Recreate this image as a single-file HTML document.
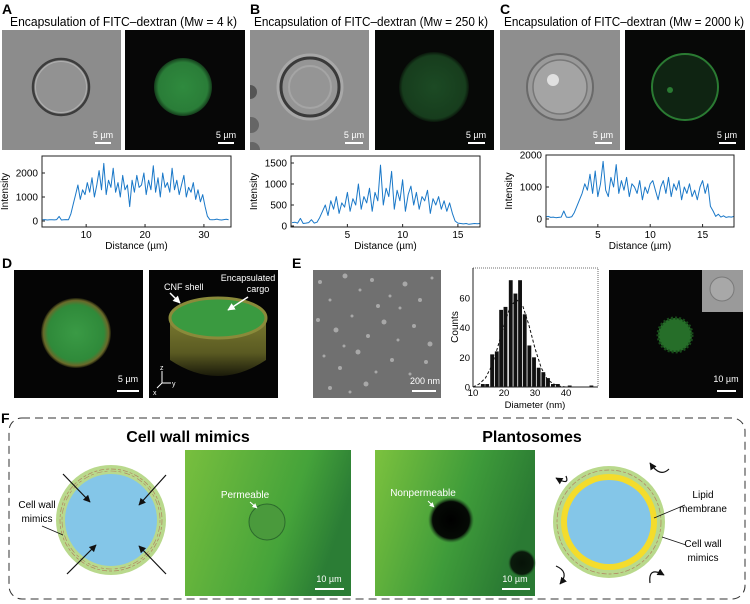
<!DOCTYPE html>
<html><head><meta charset="utf-8">
<style>
html,body{margin:0;padding:0;background:#fff;}
svg{display:block;font-family:"Liberation Sans",sans-serif;}
</style></head>
<body>
<svg id="fig" width="750" height="604" viewBox="0 0 750 604" xmlns="http://www.w3.org/2000/svg">
<defs>
  <radialGradient id="gA" cx="50%" cy="50%" r="50%"><stop offset="0" stop-color="#2f8a3e"/><stop offset="0.85" stop-color="#2a7d38"/><stop offset="1" stop-color="#143d1b"/></radialGradient>
  <radialGradient id="gB" cx="50%" cy="50%" r="50%"><stop offset="0" stop-color="#1c4a24"/><stop offset="0.9" stop-color="#173d1d"/><stop offset="1" stop-color="#0a160b"/></radialGradient>
  <radialGradient id="gD" cx="50%" cy="50%" r="50%"><stop offset="0" stop-color="#3a9a45"/><stop offset="0.8" stop-color="#2f8a3a"/><stop offset="0.93" stop-color="#6a6a2a"/><stop offset="1" stop-color="#1a1a0a"/></radialGradient>
  <linearGradient id="cyl" x1="0" y1="0" x2="0" y2="1"><stop offset="0" stop-color="#7a7a30"/><stop offset="0.6" stop-color="#5a5a22"/><stop offset="1" stop-color="#1a1a0a"/></linearGradient>
  <linearGradient id="fgreen" x1="0" y1="0" x2="1" y2="0.3"><stop offset="0" stop-color="#78bf3e"/><stop offset="0.7" stop-color="#45a33a"/><stop offset="1" stop-color="#2b7d35"/></linearGradient>
  <linearGradient id="fgreen2" x1="0" y1="0" x2="1" y2="0.3"><stop offset="0" stop-color="#7cc23e"/><stop offset="0.6" stop-color="#3f9c3a"/><stop offset="1" stop-color="#2a7a33"/></linearGradient>
  <radialGradient id="blk" cx="50%" cy="50%" r="50%"><stop offset="0" stop-color="#000"/><stop offset="0.8" stop-color="#050a05"/><stop offset="1" stop-color="#1e4a20" stop-opacity="0"/></radialGradient>
  <clipPath id="clipB"><rect x="250" y="30" width="119" height="120"/></clipPath>
  <marker id="ah" viewBox="0 0 10 10" refX="9" refY="5" markerWidth="6" markerHeight="6" orient="auto"><path d="M0,0 L10,5 L0,10 z" fill="#111"/></marker>
  <marker id="ahw" viewBox="0 0 10 10" refX="9" refY="5" markerWidth="5" markerHeight="5" orient="auto"><path d="M0,0 L10,5 L0,10 z" fill="#fff"/></marker>
</defs>

<text x="2" y="14" font-size="14" font-weight="bold">A</text>
<text x="250" y="14" font-size="14" font-weight="bold">B</text>
<text x="500" y="14" font-size="14" font-weight="bold">C</text>
<text x="10" y="26" font-size="12.5" textLength="227" lengthAdjust="spacingAndGlyphs">Encapsulation of FITC–dextran (Mw = 4 k)</text>
<text x="254" y="26" font-size="12.5" textLength="234" lengthAdjust="spacingAndGlyphs">Encapsulation of FITC–dextran (Mw = 250 k)</text>
<text x="504" y="26" font-size="12.5" textLength="240" lengthAdjust="spacingAndGlyphs">Encapsulation of FITC–dextran (Mw = 2000 k)</text>

<g>
  <rect x="2" y="30" width="119" height="120" fill="#8c8c8c"/>
  <circle cx="61" cy="87" r="28" fill="#929292" stroke="#3c3c3c" stroke-width="2.5"/>
  <circle cx="61" cy="87" r="25.5" fill="none" stroke="#b0b0b0" stroke-width="1"/>
  <text x="103" y="138" font-size="9" fill="#fff" text-anchor="middle">5 µm</text>
  <rect x="95" y="142" width="16" height="2" fill="#fff"/>
</g>
<g>
  <rect x="125" y="30" width="120" height="120" fill="#070707"/>
  <circle cx="183" cy="87" r="29" fill="url(#gA)"/>
  <text x="226" y="138" font-size="9" fill="#fff" text-anchor="middle">5 µm</text>
  <rect x="218" y="142" width="16" height="2" fill="#fff"/>
</g>
<g>
  <rect x="250" y="30" width="119" height="120" fill="#8f8f8f"/>
  <g clip-path="url(#clipB)">
  <circle cx="250" cy="92" r="7" fill="#555"/><circle cx="251" cy="125" r="8" fill="#666"/><circle cx="252" cy="150" r="8" fill="#666"/>
  </g>
  <circle cx="310" cy="87" r="32" fill="#9a9a9a" stroke="#a8a8a8" stroke-width="3"/>
  <circle cx="310" cy="87" r="29" fill="#959595" stroke="#3a3a3a" stroke-width="3"/>
  <circle cx="310" cy="87" r="21" fill="none" stroke="#a5a5a5" stroke-width="2"/>
  <text x="354" y="138" font-size="9" fill="#fff" text-anchor="middle">5 µm</text>
  <rect x="345" y="142" width="18" height="2" fill="#fff"/>
</g>
<g>
  <rect x="375" y="30" width="119" height="120" fill="#070907"/>
  <circle cx="434" cy="87" r="35" fill="url(#gB)"/>
  <text x="476" y="138" font-size="9" fill="#fff" text-anchor="middle">5 µm</text>
  <rect x="468" y="142" width="17" height="2" fill="#fff"/>
</g>
<g>
  <rect x="500" y="30" width="120" height="120" fill="#8e8e8e"/>
  <circle cx="560" cy="87" r="33" fill="#9a9a9a" stroke="#6a6a6a" stroke-width="2"/>
  <circle cx="560" cy="87" r="27" fill="#a4a4a4" stroke="#777" stroke-width="1.5"/>
  <circle cx="553" cy="80" r="6" fill="#e0e0e0"/>
  <text x="603" y="138" font-size="9" fill="#fff" text-anchor="middle">5 µm</text>
  <rect x="595" y="142" width="17" height="2" fill="#fff"/>
</g>
<g>
  <rect x="625" y="30" width="120" height="120" fill="#070807"/>
  <circle cx="685" cy="87" r="33" fill="#0f2412" stroke="#2a7a32" stroke-width="2"/>
  <circle cx="670" cy="90" r="3" fill="#2a7a32"/>
  <text x="727" y="138" font-size="9" fill="#fff" text-anchor="middle">5 µm</text>
  <rect x="719" y="142" width="17" height="2" fill="#fff"/>
</g>

<g id="plots"></g>

<text x="2" y="268" font-size="14" font-weight="bold">D</text>
<text x="292" y="268" font-size="14" font-weight="bold">E</text>
<g>
  <rect x="14" y="270" width="129" height="128" fill="#050505"/>
  <circle cx="76" cy="333" r="35" fill="url(#gD)"/>
  <text x="128" y="382" font-size="9" fill="#fff" text-anchor="middle">5 µm</text>
  <rect x="117" y="390" width="22" height="2" fill="#fff"/>
</g>
<g>
  <rect x="149" y="270" width="129" height="128" fill="#050505"/>
  <path d="M170,318 L170,360 Q218,392 266,360 L266,318 Z" fill="url(#cyl)"/>
  <ellipse cx="218" cy="318" rx="48" ry="20" fill="#3a9a40" stroke="#8a8a3a" stroke-width="3"/>
  <text x="164" y="290" font-size="9" fill="#fff">CNF shell</text>
  <line x1="170" y1="293" x2="180" y2="303" stroke="#fff" stroke-width="1.5" marker-end="url(#ahw)"/>
  <text x="248" y="281" font-size="9" fill="#fff" text-anchor="middle">Encapsulated</text>
  <text x="258" y="292" font-size="9" fill="#fff" text-anchor="middle">cargo</text>
  <line x1="248" y1="297" x2="228" y2="310" stroke="#fff" stroke-width="1.5" marker-end="url(#ahw)"/>
  <line x1="162" y1="383" x2="162" y2="371" stroke="#fff"/><line x1="162" y1="383" x2="171" y2="383" stroke="#fff"/><line x1="162" y1="383" x2="157" y2="388" stroke="#fff"/>
  <text x="160" y="370" font-size="7" fill="#fff">z</text><text x="172" y="386" font-size="7" fill="#fff">y</text><text x="153" y="395" font-size="7" fill="#fff">x</text>
</g>
<g id="sem">
  <rect x="313" y="270" width="128" height="128" fill="#707070"/>
</g>
<g id="hist"></g>
<g>
  <rect x="609" y="270" width="134" height="128" fill="#060606"/>
  <circle cx="675" cy="335" r="17" fill="#2a7a2e" opacity="0.9"/>
  <circle cx="675" cy="335" r="17" fill="none" stroke="#184a1a" stroke-width="3" stroke-dasharray="2 2"/>
  <rect x="702" y="270" width="41" height="42" fill="#9a9a9a"/>
  <circle cx="722" cy="289" r="12" fill="#a8a8a8" stroke="#7a7a7a"/>
  <text x="726" y="382" font-size="9" fill="#fff" text-anchor="middle">10 µm</text>
  <rect x="717" y="390" width="19" height="2" fill="#fff"/>
</g>

<text x="1" y="423" font-size="14" font-weight="bold">F</text>
<rect x="9" y="418" width="736" height="181" rx="13" fill="none" stroke="#333" stroke-width="1" stroke-dasharray="8 5"/>
<text x="188" y="442" font-size="16" font-weight="bold" text-anchor="middle">Cell wall mimics</text>
<text x="532" y="442" font-size="16" font-weight="bold" text-anchor="middle">Plantosomes</text>

<g>
  <circle cx="111" cy="520" r="55" fill="#b9d98c"/>
  <circle cx="111" cy="520" r="51" fill="none" stroke="#b08060" stroke-width="0.7" stroke-dasharray="5 2 3 2"/>
  <circle cx="111" cy="520" r="49" fill="none" stroke="#b08060" stroke-width="0.6" stroke-dasharray="3 3 6 2"/>
  <circle cx="111" cy="520" r="46" fill="#84c6e8"/>
  <line x1="63" y1="474" x2="90" y2="502" stroke="#111" stroke-width="1.2" marker-end="url(#ah)"/>
  <line x1="166" y1="475" x2="139" y2="505" stroke="#111" stroke-width="1.2" marker-end="url(#ah)"/>
  <line x1="67" y1="574" x2="96" y2="545" stroke="#111" stroke-width="1.2" marker-end="url(#ah)"/>
  <line x1="166" y1="574" x2="139" y2="546" stroke="#111" stroke-width="1.2" marker-end="url(#ah)"/>
  <text x="37" y="508" font-size="10" text-anchor="middle">Cell wall</text>
  <text x="37" y="522" font-size="10" text-anchor="middle">mimics</text>
  <line x1="42" y1="526" x2="63" y2="535" stroke="#111" stroke-width="0.8"/>
</g>
<g>
  <rect x="185" y="450" width="166" height="146" fill="url(#fgreen)"/>
  <circle cx="267" cy="522" r="18" fill="#4a9a3c" stroke="#2c6a2c" stroke-width="1"/>
  <text x="245" y="498" font-size="10" fill="#fff" text-anchor="middle">Permeable</text>
  <line x1="250" y1="502" x2="257" y2="508" stroke="#fff" stroke-width="1" marker-end="url(#ahw)"/>
  <text x="329" y="582" font-size="9" fill="#fff" text-anchor="middle">10 µm</text>
  <rect x="315" y="588" width="29" height="2" fill="#fff"/>
</g>
<g>
  <rect x="375" y="450" width="160" height="146" fill="url(#fgreen2)"/>
  <circle cx="451" cy="520" r="23" fill="url(#blk)"/>
  <circle cx="522" cy="563" r="14" fill="url(#blk)" opacity="0.85"/>
  <text x="423" y="496" font-size="10" fill="#fff" text-anchor="middle">Nonpermeable</text>
  <line x1="428" y1="501" x2="434" y2="507" stroke="#fff" stroke-width="1" marker-end="url(#ahw)"/>
  <text x="515" y="582" font-size="9" fill="#fff" text-anchor="middle">10 µm</text>
  <rect x="502" y="588" width="28" height="2" fill="#fff"/>
</g>
<g>
  <circle cx="609" cy="522" r="56" fill="#b9d98c"/>
  <circle cx="609" cy="522" r="52" fill="none" stroke="#b08060" stroke-width="0.7" stroke-dasharray="5 2 3 2"/>
  <circle cx="609" cy="522" r="48" fill="#f4dc2c"/>
  <circle cx="609" cy="522" r="42" fill="#84c6e8"/>
  <path d="M566,476 Q570,486 556,478" fill="none" stroke="#111" stroke-width="1.2" marker-end="url(#ah)"/>
  <path d="M669,469 Q660,478 650,463" fill="none" stroke="#111" stroke-width="1.2" marker-end="url(#ah)"/>
  <path d="M556,566 Q570,572 560,584" fill="none" stroke="#111" stroke-width="1.2" marker-end="url(#ah)"/>
  <path d="M650,583 Q648,566 664,575" fill="none" stroke="#111" stroke-width="1.2" marker-end="url(#ah)"/>
  <text x="703" y="498" font-size="10" text-anchor="middle">Lipid</text>
  <text x="703" y="512" font-size="10" text-anchor="middle">membrane</text>
  <line x1="654" y1="518" x2="685" y2="505" stroke="#111" stroke-width="0.8"/>
  <text x="703" y="547" font-size="10" text-anchor="middle">Cell wall</text>
  <text x="703" y="561" font-size="10" text-anchor="middle">mimics</text>
  <line x1="662" y1="537" x2="686" y2="545" stroke="#111" stroke-width="0.8"/>
</g>
</svg>

<script>
// ---- Intensity profile data ----
const distStartA = 2.6, distStepA = 0.4;
const intensityA = [50,60,40,55,50,45,60,190,40,50,60,55,
 300,700,1100,1500,900,1300,1100,1600,1200,1800,1000,1500,2100,1300,2400,1100,1700,1400,2200,1200,1600,1000,1900,1300,1500,600,1700,1200,1900,1400,1500,2000,1100,1700,1300,2300,1200,1800,1000,2000,1400,1600,1200,2200,1300,1700,1100,1500,1900,1000,1400,1200,1600,900,1300,800,1100,600,200,60,
 50,60,80,50,40,60,70,50];
const yTicksA = [0,1000,2000];
const xTicksA = [10,20,30];

const distStartB = 0, distStepB = 0.25;
const intensityB = [80,90,70,180,60,70,80,150,70,90,200,
 350,500,250,600,400,700,300,550,450,800,350,650,500,1000,400,700,550,900,350,800,600,1450,500,900,700,1300,400,850,600,1100,350,750,950,500,800,400,700,600,850,300,650,500,700,400,600,350,550,300,
 120,70,60,50,60,40,50,60,55,60];
const yTicksB = [0,500,1000,1500];
const xTicksB = [5,10,15];

const distStartC = 0, distStepC = 0.25;
const intensityC = [60,80,50,60,40,50,60,250,60,50,70,
 200,400,600,800,1100,900,1400,800,1500,700,1100,1800,900,700,1300,1000,1700,800,1200,900,1300,700,1100,1000,800,1200,600,1000,800,1100,1200,900,600,1000,1200,800,1300,700,1100,900,1200,600,1000,800,1100,700,900,600,1000,1200,800,1100,
 400,250,80,150,60,100,50,70,60,80];
const yTicksC = [0,1000,2000];
const xTicksC = [5,10,15];

// ---- Histogram data ----
const diameters = [13.3,14.7,16.3,17.8,19.2,20.6,22.3,23.8,25.3,26.8,28.3,29.8,31.3,32.8,34.3,35.9,37.5,41.3,48.3];
const counts =    [2,2,22,24,52,54,72,63,72,49,28,20,13,10,6,2,2,1,1];
const fitDiam =   [10,12,14,16,18,20,22,24,26,28,30,32,34,36,38,40];
const fitCount =  [0,2,6,14,27,42,54,59,55,42,26,13,5,2,0.5,0];
const histXTicks = [10,20,30,40];
const histYTicks = [0,20,40,60];

const NS = "http://www.w3.org/2000/svg";
function mk(tag, attrs, parent){ const e=document.createElementNS(NS,tag); for(const k in attrs) e.setAttribute(k,attrs[k]); if(parent) parent.appendChild(e); return e; }
function lin(d0,d1,r0,r1){ return v => r0 + (v-d0)/(d1-d0)*(r1-r0); }

function profile(name, box, xd, yd, start, step, vals, xt, yt){
  const g = mk('g',{},document.getElementById('plots'));
  
  
  const sx = lin(xd[0],xd[1],box.x0,box.x1), sy = lin(yd[0],yd[1],box.y0,box.y1);
  let d='';
  vals.forEach((v,i)=>{ d += (i?'L':'M') + sx(start+i*step).toFixed(1)+','+sy(v).toFixed(1); });
  const line = mk('path',{d:d,fill:'none',stroke:'#1a78c8','stroke-width':1,'stroke-linejoin':'round'},g);
  
  
  const frame = mk('rect',{x:box.x0,y:box.top,width:box.x1-box.x0,height:box.bot-box.top,fill:'none',stroke:'#222','stroke-width':1},g);
  
  
  yt.forEach(t=>{
    const y=sy(t);
    mk('line',{x1:box.x0,y1:y,x2:box.x0+3,y2:y,stroke:'#222'},g);
    const tx=mk('text',{x:box.x0-4,y:y+3.5,'font-size':10,'text-anchor':'end'},g); tx.textContent=t;
    
    
  });
  xt.forEach(t=>{
    const x=sx(t);
    mk('line',{x1:x,y1:box.bot,x2:x,y2:box.bot-3,stroke:'#222'},g);
    const tx=mk('text',{x:x,y:box.bot+11,'font-size':10,'text-anchor':'middle'},g); tx.textContent=t;
    
    
  });
  const xl=mk('text',{x:(box.x0+box.x1)/2,y:box.bot+22,'font-size':10,'text-anchor':'middle'},g); xl.textContent='Distance (µm)';
  
  
  const cy=(box.top+box.bot)/2, lx=box.x0-34;
  const yl=mk('text',{x:lx,y:cy,'font-size':10,'text-anchor':'middle',transform:`rotate(-90 ${lx} ${cy})`},g); yl.textContent='Intensity';
  
  
}

profile('intensity-profile-a',{x0:42,x1:231,top:156,bot:227,y0:221,y1:173},[2.5,34.6],[0,2000],distStartA,distStepA,intensityA,xTicksA,yTicksA);
profile('intensity-profile-b',{x0:291,x1:480,top:156,bot:227,y0:226,y1:163},[-0.1,17.0],[0,1500],distStartB,distStepB,intensityB,xTicksB,yTicksB);
profile('intensity-profile-c',{x0:546,x1:734,top:155,bot:227,y0:219,y1:155},[0.05,18],[0,2000],distStartC,distStepC,intensityC,xTicksC,yTicksC);

(function(){
  const g=document.getElementById('hist');
  
  
  const x0=473,x1=598,top=268,bot=387;
  const sx=lin(10,50.3,x0,x1), sy=lin(0,60,bot,298);
  diameters.forEach((dv,i)=>{
    const w=(sx(dv+1.5)-sx(dv));
    const b=mk('rect',{x:sx(dv)-w/2,y:sy(counts[i]),width:w-0.8,height:bot-sy(counts[i]),fill:'#111'},g);
    
    
  });
  let d='';
  fitDiam.forEach((v,i)=>{ d+=(i?'L':'M')+sx(v).toFixed(1)+','+sy(fitCount[i]).toFixed(1); });
  const fit=mk('path',{d:d,fill:'none',stroke:'#111','stroke-width':1,'stroke-dasharray':'3 2'},g);
  
  
  const fr=mk('rect',{x:x0,y:top,width:x1-x0,height:bot-top,fill:'none',stroke:'#444','stroke-width':0.8,'stroke-dasharray':'1 1'},g);
  
  
  mk('line',{x1:x0,y1:top,x2:x0,y2:bot,stroke:'#222'},g);
  mk('line',{x1:x0,y1:bot,x2:x1,y2:bot,stroke:'#222'},g);
  histYTicks.forEach(t=>{
    const tx=mk('text',{x:x0-3,y:sy(t)+3.5,'font-size':9.5,'text-anchor':'end'},g); tx.textContent=t;
    
    
  });
  histXTicks.forEach(t=>{
    const tx=mk('text',{x:sx(t),y:bot+9,'font-size':9.5,'text-anchor':'middle'},g); tx.textContent=t;
    
    
  });
  const xl=mk('text',{x:535,y:408,'font-size':9.5,'text-anchor':'middle'},g); xl.textContent='Diameter (nm)';
  
  
  const yl=mk('text',{x:458,y:327,'font-size':10,'text-anchor':'middle',transform:'rotate(-90 458 327)'},g); yl.textContent='Counts';
  
  
})();

(function(){
  const g=document.getElementById('sem');
  const pts=[[320,282,2],[330,300,1.5],[345,276,2.5],[360,290,1.5],[372,280,2],[390,296,1.5],[405,284,2.5],[420,300,2],[432,278,1.5],[318,320,2],[336,330,2.5],[352,316,1.5],[368,336,2],[384,322,2.5],[398,340,1.5],[414,326,2],[430,344,2.5],[324,356,1.5],[340,368,2],[358,352,2.5],[376,372,1.5],[392,360,2],[410,374,1.5],[426,362,2],[330,388,2],[350,392,1.5],[366,384,2.5],[400,308,1.5],[378,306,2],[344,346,1.5]];
  pts.forEach(p=>mk('circle',{cx:p[0],cy:p[1],r:p[2],fill:'#a8a8a8'},g));
  const t=mk('text',{x:425,y:384,'font-size':9,fill:'#fff','text-anchor':'middle'},g); t.textContent='200 nm';
  mk('rect',{x:412,y:390,width:24,height:2,fill:'#fff'},g);
})();
</script>
</body></html>
